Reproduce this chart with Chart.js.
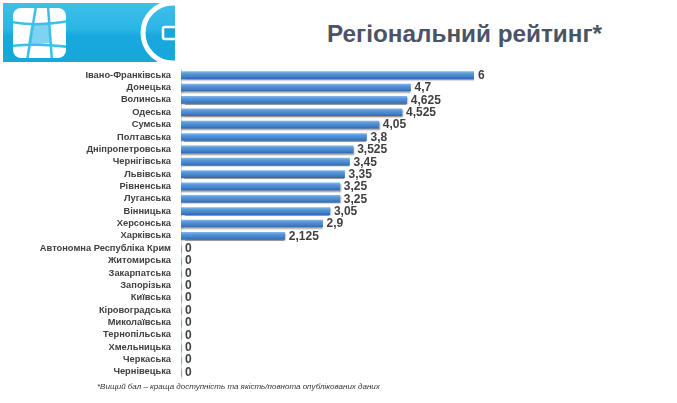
<!DOCTYPE html>
<html>
<head>
<meta charset="utf-8">
<script src="https://cdn.jsdelivr.net/npm/chart.js@4/dist/chart.umd.min.js"></script>
<style>
  html, body { margin: 0; padding: 0; background: #fff; }
  #wrap { position: relative; width: 677px; height: 403px; overflow: hidden; }
  #c { position: absolute; left: 0; top: 0; }
  #logo { position: absolute; left: 3px; top: 3px; }
  #title { position: absolute; left: 327px; top: 20px; font: bold 24.3px "Liberation Sans", Arial, sans-serif; color: #4a5466; white-space: nowrap; }
  #note { position: absolute; left: 97px; top: 382px; font: italic 8px "Liberation Sans", Arial, sans-serif; color: #333; white-space: nowrap; }
</style>
</head>
<body>
<div id="wrap">
  <svg id="logo" width="172" height="59" viewBox="0 0 172 59">
    <defs>
      <linearGradient id="bg" x1="0" y1="0" x2="0" y2="1">
        <stop offset="0" stop-color="#3dbfea"/>
        <stop offset="0.45" stop-color="#2bb5e5"/>
        <stop offset="0.55" stop-color="#17a9dd"/>
        <stop offset="1" stop-color="#16a7db"/>
      </linearGradient>
      <clipPath id="sq"><rect x="10" y="5" width="53" height="50" rx="8" ry="8"/></clipPath>
    </defs>
    <rect x="0" y="0" width="172" height="59" fill="url(#bg)"/>
    <rect x="10" y="5" width="53" height="50" rx="8" ry="8" fill="#ffffff"/>
    <g clip-path="url(#sq)">
      <polygon points="28,22 46,20 47,40 25,42" fill="#7fd3f2"/>
      <path d="M33,3 L24,58" stroke="#3dbfea" stroke-width="2.5" fill="none"/>
      <path d="M45,3 L49,58" stroke="#3dbfea" stroke-width="2.5" fill="none"/>
      <path d="M8,19 Q35,24 66,18" stroke="#3dbfea" stroke-width="2.5" fill="none"/>
      <path d="M8,43 Q35,40 66,44" stroke="#3dbfea" stroke-width="2.5" fill="none"/>
    </g>
    <circle cx="170" cy="30" r="30" fill="none" stroke="#ffffff" stroke-width="5"/>
    <rect x="160" y="24" width="16" height="12" rx="2" fill="#16a7db" stroke="#ffffff" stroke-width="2.5"/>
  </svg>
  <div id="title">Регіональний рейтинг*</div>
  <canvas id="c" width="677" height="403"></canvas>
  <div id="note">*Вищий бал – краща доступність та якість/повнота опублікованих даних</div>
</div>
<script>
const regions = [
  "Івано-Франківська", "Донецька", "Волинська", "Одеська", "Сумська",
  "Полтавська", "Дніпропетровська", "Чернігівська", "Львівська", "Рівненська",
  "Луганська", "Вінницька", "Херсонська", "Харківська", "Автономна Республіка Крим",
  "Житомирська", "Закарпатська", "Запорізька", "Київська", "Кіровоградська",
  "Миколаївська", "Тернопільська", "Хмельницька", "Черкаська", "Чернівецька"
];
const scores = [
  6, 4.7, 4.625, 4.525, 4.05,
  3.8, 3.525, 3.45, 3.35, 3.25,
  3.25, 3.05, 2.9, 2.125, 0,
  0, 0, 0, 0, 0,
  0, 0, 0, 0, 0
];
const scoreMax = 6;

const fmt = v => String(v).replace('.', ',');

function barFill(context) {
  const chart = context.chart;
  const ys = chart.scales && chart.scales.y;
  const fallback = '#4a8bd0';
  if (!ys || context.dataIndex === undefined) return fallback;
  const yc = ys.getPixelForValue(context.dataIndex);
  if (!isFinite(yc)) return fallback;
  const g = chart.ctx.createLinearGradient(0, yc - 3.5, 0, yc + 3.5);
  g.addColorStop(0, '#7fb3e6');
  g.addColorStop(0.3, '#5796d9');
  g.addColorStop(0.7, '#4382cc');
  g.addColorStop(1, '#306cb5');
  return g;
}

const shadow = {
  id: 'shadow',
  beforeDatasetsDraw(chart) {
    const ctx = chart.ctx;
    ctx.save();
    ctx.shadowColor = 'rgba(0,0,0,0.4)';
    ctx.shadowOffsetY = 1.5;
    ctx.shadowOffsetX = 0.5;
    ctx.shadowBlur = 1.5;
  },
  afterDatasetsDraw(chart) {
    chart.ctx.restore();
  }
};

const valueLabels = {
  id: 'valueLabels',
  afterDatasetsDraw(chart) {
    const ctx = chart.ctx;
    const meta = chart.getDatasetMeta(0);
    ctx.save();
    ctx.font = 'bold 12px "Liberation Sans", Arial, sans-serif';
    ctx.fillStyle = '#404040';
    ctx.textAlign = 'left';
    ctx.textBaseline = 'middle';
    meta.data.forEach((bar, i) => {
      const v = chart.data.datasets[0].data[i];
      ctx.fillText(fmt(v), bar.x + 4, bar.y + 0.5);
    });
    ctx.restore();
  }
};

new Chart(document.getElementById('c'), {
  type: 'bar',
  data: {
    labels: regions,
    datasets: [{
      data: scores,
      backgroundColor: barFill,
      borderWidth: 0,
      barThickness: 7
    }]
  },
  options: {
    indexAxis: 'y',
    responsive: false,
    animation: false,
    devicePixelRatio: 1,
    layout: { padding: { left: 0, right: 203, top: 69, bottom: 25 } },
    plugins: { legend: { display: false }, tooltip: { enabled: false } },
    scales: {
      x: {
        display: false,
        min: 0,
        max: scoreMax
      },
      y: {
        afterFit(scale) { scale.width = 181; },
        grid: { display: false, drawTicks: false },
        border: { display: true, color: '#d9d9d9', width: 1 },
        ticks: {
          autoSkip: false,
          padding: 10,
          color: '#404040',
          font: { family: '"Liberation Sans", Arial, sans-serif', size: 9.3, weight: 'bold' }
        }
      }
    }
  },
  plugins: [shadow, valueLabels]
});
</script>
</body>
</html>
